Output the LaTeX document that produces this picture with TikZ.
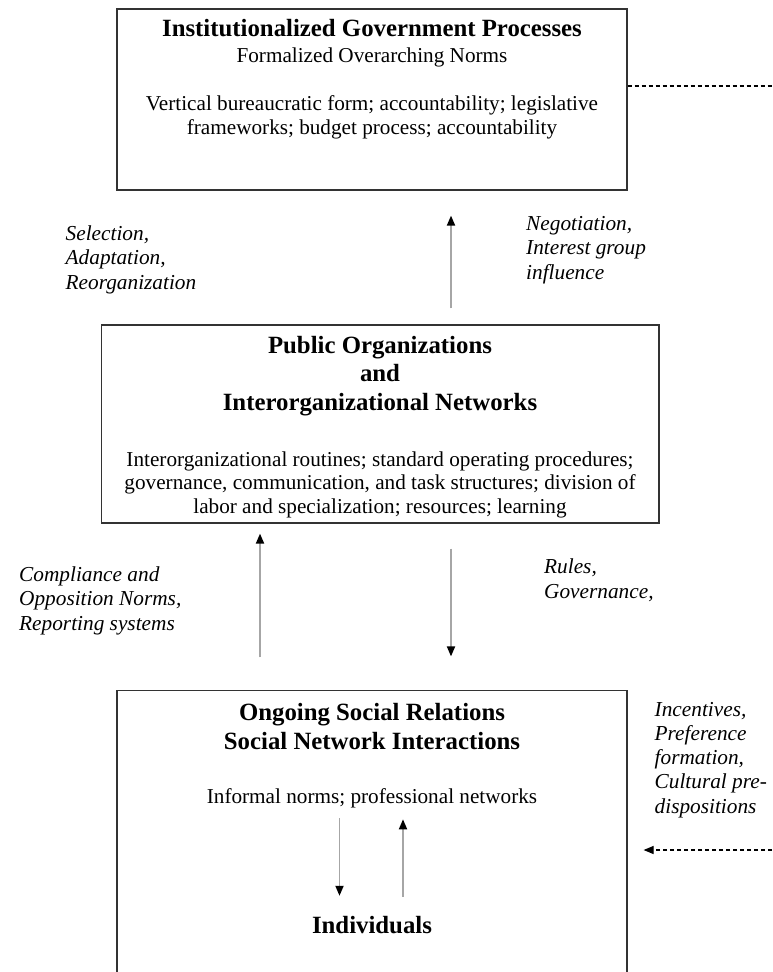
\documentclass[tikz,border=0pt]{standalone}
\usepackage{fontspec}
\setmainfont{Liberation Serif}
\usetikzlibrary{arrows.meta}

\begin{document}
\begin{tikzpicture}[
  x=1pt,y=-1pt,
  >={Triangle[length=10pt,width=8pt,black]},
  box/.style={draw=black!80,line width=1.2pt,minimum width=510pt,inner sep=0pt},
  head/.style={font=\fontsize{24.8}{28.5}\selectfont\bfseries,align=center,inner sep=0pt,anchor=base},
  body/.style={font=\fontsize{21.2}{23.5}\selectfont,align=center,inner sep=0pt,anchor=base},
  cue/.style={font=\fontsize{21.3}{24.2}\selectfont\itshape,align=left,inner sep=0pt,anchor=base west},
  flow/.style={->,draw=black!35,line width=1.8pt},
  link/.style={draw=black,line width=1.2pt,dash pattern=on 4pt off 3pt}
]
  \clip (0,0) rectangle (772,972);

  % top level (multi-line nodes sit on their last baseline)
  \node[box,minimum height=181pt] (gov) at (372,99.5) {};
  \node[head] (govhead) at (372,36) {Institutionalized Government Processes};
  \node[body] (govsub) at (372,62) {Formalized Overarching Norms};
  \node[body] (govbody) at (372,134) {Vertical bureaucratic form; accountability; legislative\\frameworks; budget process; accountability};

  % middle level
  \node[box,minimum width=557.5pt,minimum height=198pt] (pub) at (380.25,424) {};
  \node[head] (pubhead) at (380,410) {Public Organizations\\and\\Interorganizational Networks};
  \node[body] (pubbody) at (380,513) {Interorganizational routines; standard operating procedures;\\governance, communication, and task structures; division of\\labor and specialization; resources; learning};

  % bottom level
  \node[box,minimum height=330pt] (soc) at (372,855.7) {};
  \node[head] (sochead) at (372,749) {Ongoing Social Relations\\Social Network Interactions};
  \node[body] (norms) at (372,803) {Informal norms; professional networks};
  \node[head] (indiv) at (372,933) {Individuals};

  % labels
  \node[cue] (select) at (65.5,289) {Selection,\\Adaptation,\\Reorganization};
  \node[cue] (negot) at (526,279) {Negotiation,\\Interest group\\influence};
  \node[cue] (comply) at (19,630) {Compliance and\\Opposition Norms,\\Reporting systems};
  \node[cue] (rules) at (544,598) {Rules,\\Governance,};
  \node[cue] (incent) at (654.5,813) {Incentives,\\Preference\\formation,\\Cultural pre-\\dispositions};

  % arrows
  \coordinate (colR) at (451,0);
  \coordinate (colL) at (260,0);
  \coordinate (colA) at (339.5,0);
  \coordinate (colB) at (403,0);
  \draw[flow,shorten <=16pt,shorten >=25pt] (pub.north -| colR) -- (gov.south -| colR);
  \draw[flow,shorten <=32.7pt,shorten >=10pt] (soc.north -| colL) -- (pub.south -| colL);
  \draw[flow,shorten <=25pt,shorten >=33.7pt] (pub.south -| colR) -- (soc.north -| colR);
  \draw[flow,shorten <=10.6pt,shorten >=19.8pt] (norms.south -| colA) -- (indiv.north -| colA);
  \draw[flow,shorten <=18.8pt,shorten >=11.6pt] (indiv.north -| colB) -- (norms.south -| colB);

  \coordinate (govout) at (772,86);
  \coordinate (socin) at (772,850);
  \draw[link] (gov.east |- govout) -- (govout);
  \draw[link,->,shorten >=16pt] (socin) -- (soc.east |- socin);
\end{tikzpicture}
\end{document}
